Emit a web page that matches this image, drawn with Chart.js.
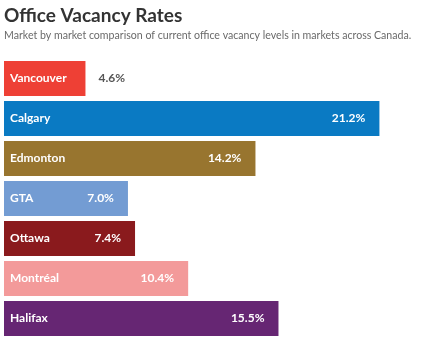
<!DOCTYPE html>
<html>
<head>
<meta charset="utf-8">
<script src="https://cdn.jsdelivr.net/npm/chart.js@4"></script>
<style>
  html, body { margin: 0; padding: 0; background: #fff; }
  #wrap { width: 439px; height: 343px; position: relative; }
</style>
</head>
<body>
<div id="wrap"><canvas id="vacancyChart"></canvas></div>
<script>
const markets = ['Vancouver', 'Calgary', 'Edmonton', 'GTA', 'Ottawa', 'Montréal', 'Halifax'];
const vacancy = [4.6, 21.2, 14.2, 7.0, 7.4, 10.4, 15.5];
const barColors = ['#EE4035', '#0A7AC3', '#98752F', '#739CD3', '#8A1A1D', '#F39A9A', '#662673'];

// draws market name inside each bar and the value at its end
const barLabels = {
    id: 'barLabels',
    afterDatasetsDraw(chart) {
        const ctx = chart.ctx;
        const meta = chart.getDatasetMeta(0);
        ctx.save();
        ctx.textBaseline = 'middle';
        meta.data.forEach((bar, i) => {
            ctx.font = 'bold 12px Lato';
            ctx.fillStyle = '#fff';
            ctx.textAlign = 'left';
            ctx.fillText(markets[i], bar.base + 6, bar.y);

            const txt = vacancy[i].toFixed(1) + '%';
            const nameW = ctx.measureText(markets[i]).width;
            const valW = ctx.measureText(txt).width;
            if (bar.x - bar.base > nameW + valW + 30) {
                ctx.textAlign = 'right';
                ctx.fillText(txt, bar.x - 14, bar.y);
            } else {
                ctx.fillStyle = '#555';
                ctx.textAlign = 'left';
                ctx.fillText(txt, bar.x + 13, bar.y);
            }
        });
        ctx.restore();
    }
};

new Chart(document.getElementById('vacancyChart'), {
    type: 'bar',
    data: {
        labels: markets,
        datasets: [{
            data: vacancy,
            backgroundColor: barColors,
            borderWidth: 0,
            barPercentage: 0.875,
            categoryPercentage: 1
        }]
    },
    options: {
        indexAxis: 'y',
        responsive: true,
        maintainAspectRatio: false,
        animation: false,
        layout: {
            padding: { left: 4, right: 10, top: 0, bottom: 4.5 }
        },
        plugins: {
            legend: { display: false },
            tooltip: { enabled: false },
            title: {
                display: true,
                text: 'Office Vacancy Rates',
                align: 'start',
                color: '#333',
                font: { family: 'Lato', size: 19, weight: 'bold' },
                padding: { top: 4, bottom: 2 }
            },
            subtitle: {
                display: true,
                text: 'Market by market comparison of current office vacancy levels in markets across Canada.',
                align: 'start',
                color: '#6a6a6a',
                font: { family: 'Lato', size: 10.6 },
                padding: { top: 0, bottom: 17 }
            }
        },
        scales: {
            x: { display: false, min: 0, max: 24 },
            y: { display: false }
        }
    },
    plugins: [barLabels]
});
</script>
</body>
</html>
